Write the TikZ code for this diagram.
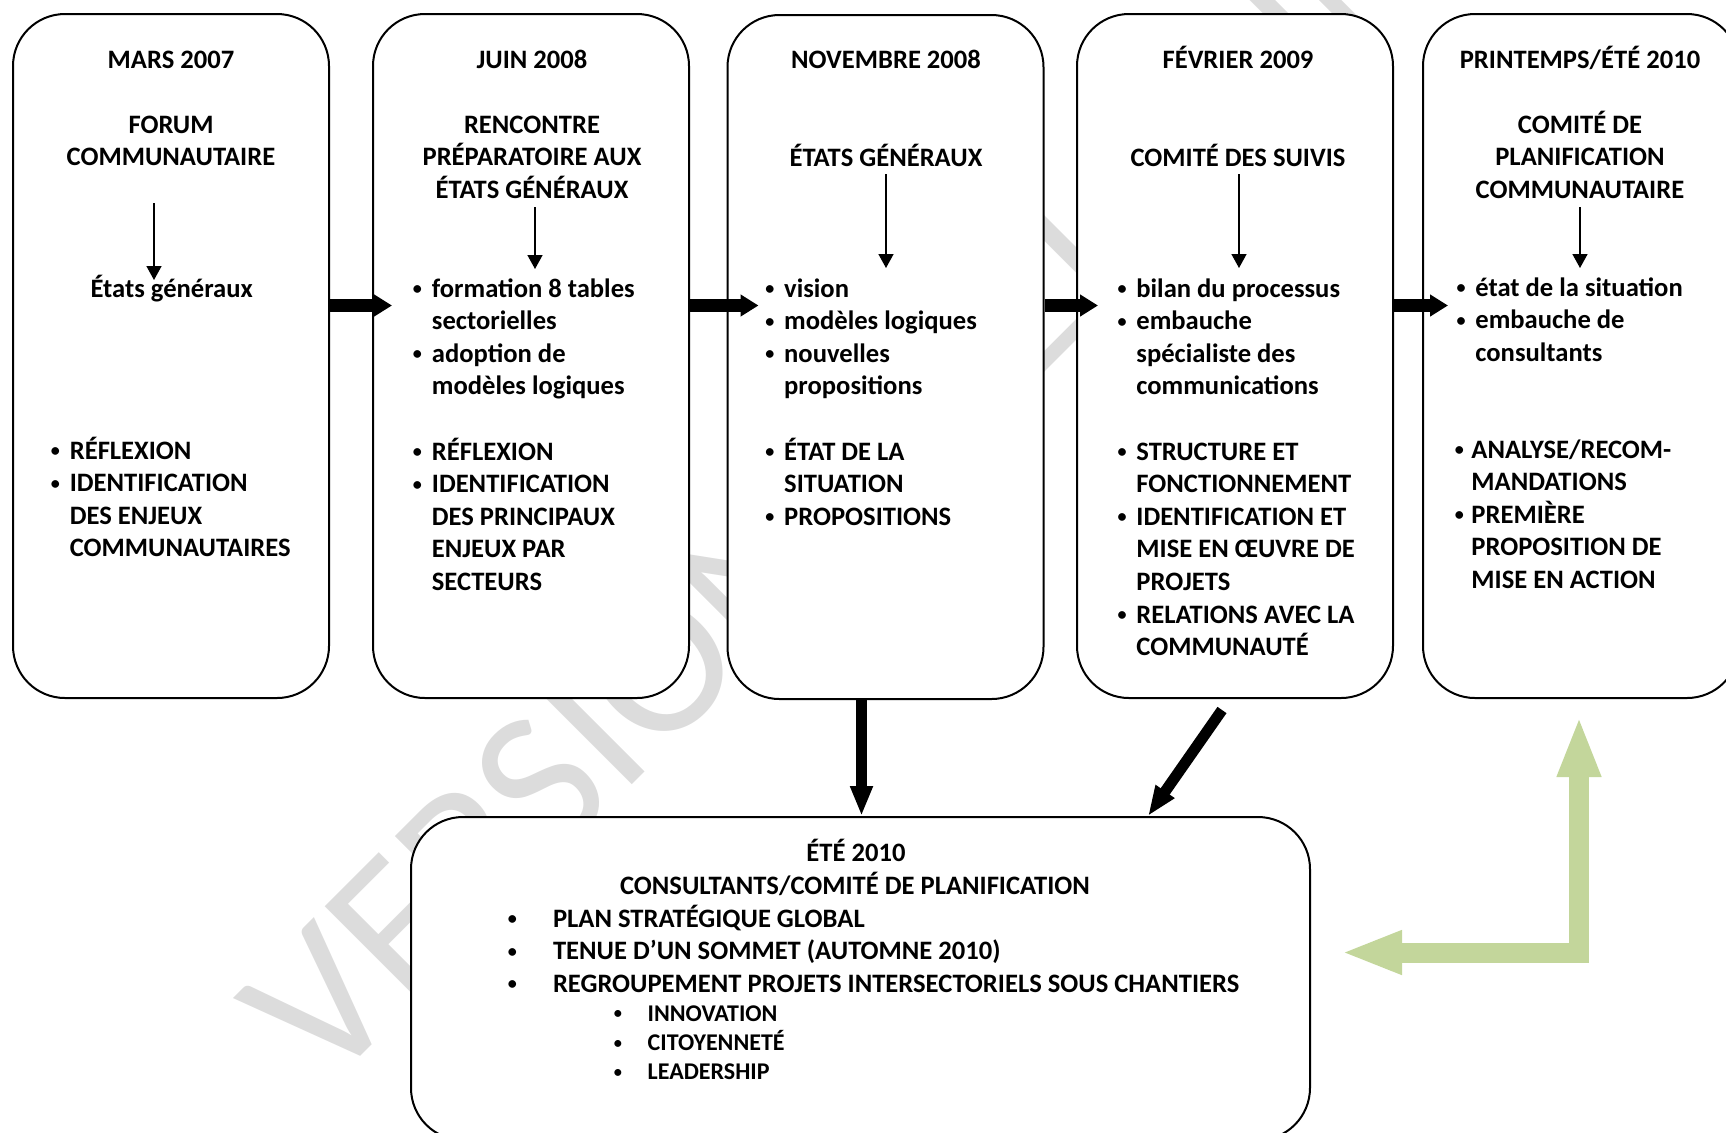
\documentclass[tikz,border=0pt]{standalone}
\usepackage{fontspec}
\setmainfont{Carlito}
\usetikzlibrary{arrows.meta}
\definecolor{arrowgreen}{RGB}{195,214,155}
\definecolor{wmgray}{RGB}{220,220,220}
\newcommand{\bul}[1]{\makebox[#1][c]{\raisebox{0.09em}{\scalebox{0.68}{\textbullet}}}}
\begin{document}
\begin{tikzpicture}[x=0.5pt,y=-0.5pt,
  box/.style={draw=black, line width=1pt, fill=white, rounded corners=26pt, inner sep=0pt, minimum width=158pt, minimum height=342pt},
  txt/.style={inner sep=0pt, font=\bfseries\fontsize{13.3}{16.3}\selectfont},
  subtxt/.style={inner sep=0pt, font=\bfseries\fontsize{12}{14.6}\selectfont},
  wm/.style={inner sep=0pt, text=wmgray, font=\fontsize{102}{110}\selectfont},
  bigarrow/.style={line width=6.5pt, -{Triangle[width=10.5pt,length=9pt]}},
  downarrow/.style={line width=5.5pt, -{Triangle[width=10.5pt,length=15pt]}},
  smallarrow/.style={line width=0.75pt, -{Triangle[width=7.5pt,length=7pt]}},
  greenarrow/.style={draw=arrowgreen, line width=10pt, line join=miter,
     {Triangle[width=20pt,length=30.5pt]}-{Triangle[width=20pt,length=30.5pt]}}
]
\useasboundingbox (0,0) rectangle (1726,1132);
\clip (0,0) rectangle (1726,1132);

% watermark
\node[wm, rotate=45, anchor=base west] (wm) at (325,1092) {VERSION PRÉLIMINAIRE};

% boxes
\node[box] (b1) at (171,356) {};
\node[box] (b2) at (531,356) {};
\node[box] (b3) at (885.5,357) {};
\node[box] (b4) at (1235,356) {};
\node[box] (b5) at (1581,356) {};
\node[box, minimum width=449.5pt, minimum height=161.5pt] (b6) at (860.5,978.5) {};

% box 1
\node[txt, anchor=base] (t1) at (171,68) {MARS 2007};
\node[txt, anchor=base] (h1) at (171,133) {\begin{tabular}[t]{@{}c@{}}FORUM\\COMMUNAUTAIRE\end{tabular}};
\node[txt, anchor=base] (e1) at (171.7,297) {États généraux};
\node[txt, anchor=base west] (l1) at (40.6,459) {\begin{tabular}[t]{@{}l@{}l@{}}
\bul{14.4pt}&RÉFLEXION\\
\bul{14.4pt}&IDENTIFICATION\\
&DES ENJEUX\\
&COMMUNAUTAIRES\end{tabular}};

% box 2
\node[txt, anchor=base] (t2) at (532,68) {JUIN 2008};
\node[txt, anchor=base] (h2) at (532,133) {\begin{tabular}[t]{@{}c@{}}RENCONTRE\\PRÉPARATOIRE AUX\\ÉTATS GÉNÉRAUX\end{tabular}};
\node[txt, anchor=base west] (l2) at (402.7,297) {\begin{tabular}[t]{@{}l@{}l@{}}
\bul{14.4pt}&formation 8 tables\\
&sectorielles\\
\bul{14.4pt}&adoption de\\
&modèles logiques\\
&\\
\bul{14.4pt}&RÉFLEXION\\
\bul{14.4pt}&IDENTIFICATION\\
&DES PRINCIPAUX\\
&ENJEUX PAR\\
&SECTEURS\end{tabular}};

% box 3
\node[txt, anchor=base] (t3) at (886,68) {NOVEMBRE 2008};
\node[txt, anchor=base] (h3) at (886,166) {ÉTATS GÉNÉRAUX};
\node[txt, anchor=base west] (l3) at (755,297) {\begin{tabular}[t]{@{}l@{}l@{}}
\bul{14.4pt}&vision\\
\bul{14.4pt}&modèles logiques\\
\bul{14.4pt}&nouvelles\\
&propositions\\
&\\
\bul{14.4pt}&ÉTAT DE LA\\
&SITUATION\\
\bul{14.4pt}&PROPOSITIONS\end{tabular}};

% box 4
\node[txt, anchor=base] (t4) at (1238,68) {FÉVRIER 2009};
\node[txt, anchor=base] (h4) at (1238,166) {COMITÉ DES SUIVIS};
\node[txt, anchor=base west] (l4) at (1107.2,297) {\begin{tabular}[t]{@{}l@{}l@{}}
\bul{14.4pt}&bilan du processus\\
\bul{14.4pt}&embauche\\
&spécialiste des\\
&communications\\
&\\
\bul{14.4pt}&STRUCTURE ET\\
&FONCTIONNEMENT\\
\bul{14.4pt}&IDENTIFICATION ET\\
&MISE EN ŒUVRE DE\\
&PROJETS\\
\bul{14.4pt}&RELATIONS AVEC LA\\
&COMMUNAUTÉ\end{tabular}};

% box 5
\node[txt, anchor=base] (t5) at (1580,68) {PRINTEMPS/ÉTÉ 2010};
\node[txt, anchor=base] (h5) at (1580,133) {\begin{tabular}[t]{@{}c@{}}COMITÉ DE\\PLANIFICATION\\COMMUNAUTAIRE\end{tabular}};
\node[txt, anchor=base west] (l5) at (1446.2,296) {\begin{tabular}[t]{@{}l@{}l@{}}
\bul{14.4pt}&état de la situation\\
\bul{14.4pt}&embauche de\\
&consultants\end{tabular}};
\node[txt, anchor=base west] (m5) at (1447,458) {\begin{tabular}[t]{@{}l@{}l@{}}
\bul{12pt}&ANALYSE/RECOM-\\
&MANDATIONS\\
\bul{12pt}&PREMIÈRE\\
&PROPOSITION DE\\
&MISE EN ACTION\end{tabular}};

% bottom box
\node[txt, anchor=base] (t6) at (856,861) {ÉTÉ 2010};
\node[txt, anchor=base] (h6) at (855,894) {CONSULTANTS/COMITÉ DE PLANIFICATION};
\node[txt, anchor=base west] (l6) at (471.2,927) {\begin{tabular}[t]{@{}l@{}l@{}}
\bul{40.7pt}&PLAN STRATÉGIQUE GLOBAL\\
\bul{40.7pt}&TENUE D’UN SOMMET (AUTOMNE 2010)\\
\bul{40.7pt}&REGROUPEMENT PROJETS INTERSECTORIELS SOUS CHANTIERS\end{tabular}};
\node[subtxt, anchor=base west] (s6) at (587.7,1021) {\begin{tabular}[t]{@{}l@{}l@{}}
\bul{29.8pt}&INNOVATION\\
\bul{29.8pt}&CITOYENNETÉ\\
\bul{29.8pt}&LEADERSHIP\end{tabular}};

% small arrows inside boxes
\coordinate (a1s) at (154,203); \coordinate (a1e) at (154,280);
\coordinate (a2s) at (535,207); \coordinate (a2e) at (535,269);
\coordinate (a3s) at (886,174); \coordinate (a3e) at (886,268);
\coordinate (a4s) at (1239,174); \coordinate (a4e) at (1239,268);
\coordinate (a5s) at (1580,207); \coordinate (a5e) at (1580,268);
\draw[smallarrow] (a1s) -- (a1e);
\draw[smallarrow] (a2s) -- (a2e);
\draw[smallarrow] (a3s) -- (a3e);
\draw[smallarrow] (a4s) -- (a4e);
\draw[smallarrow] (a5s) -- (a5e);

% thick arrows between boxes
\draw[bigarrow] ([yshift=25.25pt]b1.east) -- ([xshift=10pt,yshift=25.25pt]b2.west);
\draw[bigarrow] ([yshift=25.25pt]b2.east) -- ([xshift=16pt,yshift=25.75pt]b3.west);
\draw[bigarrow] ([yshift=25.75pt]b3.east) -- ([xshift=11pt,yshift=25.25pt]b4.west);
\draw[bigarrow] ([yshift=25.25pt]b4.east) -- ([xshift=13pt,yshift=25.25pt]b5.west);

% arrows to bottom box
\draw[downarrow] ([xshift=-12pt]b3.south) -- ([xshift=-12pt]b3.south |- b6.north);
\draw[downarrow] ([xshift=-6.5pt,yshift=-5.5pt]b4.south) -- ([xshift=143.75pt]b6.north);

% green bent arrow
\coordinate (gl) at (1341,952.5);
\coordinate (gc) at (1579,952.5);
\coordinate (gt) at (1579,716);
\draw[greenarrow] (gl) -- (gc) -- (gt);
\end{tikzpicture}
\end{document}
